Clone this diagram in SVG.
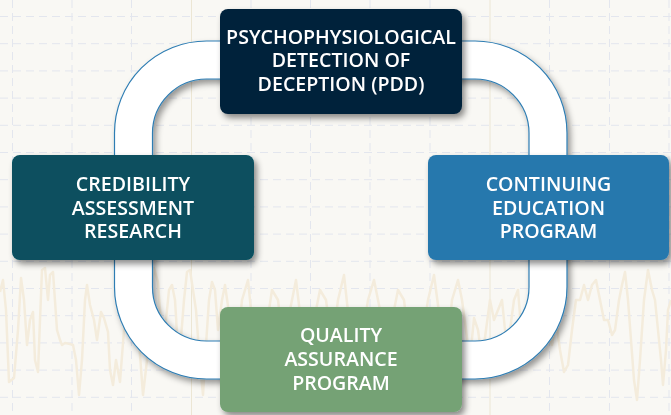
<svg xmlns="http://www.w3.org/2000/svg" width="671" height="415" viewBox="0 0 671 415">
<defs>
<style>
.grid line{stroke:#e3e6ee;stroke-width:1;stroke-dasharray:8 5}
.grid line.solid{stroke:#ece6d4;stroke-dasharray:none}
.wave{fill:none;stroke:#f4ecdc;stroke-width:2.5;stroke-linejoin:round}
.box{filter:url(#shadow)}
.lbl{fill:#ffffff;font-family:"Open Sans","Noto Sans",sans-serif;font-weight:600;font-size:19.6px;text-anchor:middle}
.ring{fill:#ffffff;fill-rule:evenodd;stroke:#2e7db3;stroke-width:1.2;filter:url(#rshadow)}
</style>
<filter id="shadow" x="-10%" y="-10%" width="125%" height="130%">
<feDropShadow dx="3" dy="4" stdDeviation="3" flood-color="#000" flood-opacity="0.45"/>
</filter>
<filter id="rshadow" x="-10%" y="-10%" width="125%" height="125%">
<feDropShadow dx="3" dy="4" stdDeviation="3" flood-color="#000" flood-opacity="0.4"/>
</filter>
</defs>
<rect width="671" height="415" fill="#f9f8f4"/>
<g class="grid">
<line x1="0" y1="16.5" x2="671" y2="16.5"/>
<line x1="0" y1="43.7" x2="671" y2="43.7"/>
<line x1="0" y1="70.9" x2="671" y2="70.9"/>
<line x1="0" y1="98.1" x2="671" y2="98.1"/>
<line x1="0" y1="125.3" x2="671" y2="125.3"/>
<line x1="0" y1="152.5" x2="671" y2="152.5"/>
<line x1="0" y1="179.7" x2="671" y2="179.7"/>
<line x1="0" y1="206.9" x2="671" y2="206.9"/>
<line x1="0" y1="234.1" x2="671" y2="234.1"/>
<line x1="0" y1="261.3" x2="671" y2="261.3"/>
<line x1="0" y1="288.5" x2="671" y2="288.5"/>
<line x1="0" y1="315.7" x2="671" y2="315.7"/>
<line x1="0" y1="342.9" x2="671" y2="342.9"/>
<line x1="0" y1="370.1" x2="671" y2="370.1"/>
<line x1="0" y1="397.3" x2="671" y2="397.3"/>
<line x1="12.5" y1="0" x2="12.5" y2="415"/>
<line x1="72" y1="0" x2="72" y2="415"/>
<line x1="131.5" y1="0" x2="131.5" y2="415"/>
<line class="solid" x1="191.5" y1="0" x2="191.5" y2="415"/>
<line x1="251" y1="0" x2="251" y2="415"/>
<line x1="310.5" y1="0" x2="310.5" y2="415"/>
<line x1="370" y1="0" x2="370" y2="415"/>
<line x1="430" y1="0" x2="430" y2="415"/>
<line class="solid" x1="490" y1="0" x2="490" y2="415"/>
<line x1="549.5" y1="0" x2="549.5" y2="415"/>
<line x1="609.5" y1="0" x2="609.5" y2="415"/>
<line x1="669" y1="0" x2="669" y2="415"/>
</g>
<polyline class="wave" points="0,292 3,280 6,310 9,382 14,378 18,330 21,278 24,300 27,345 30,320 33,312 35,360 38,372 40,320 42,270 45,268 48,300 50,275 53,272 57,330 60,340 62,345 65,343 70,344 73,345 76,360 79,395 82,360 85,300 87,285 90,305 94,320 97,340 101,312 104,318 108,332 110,370 113,385 116,360 120,382 124,330 128,290 133,280 136,300 140,355 143,395 147,360 150,300 154,268 158,282 160,310 163,350 166,320 169,290 172,285 175,300 178,350 181,338 184,300 187,272 190,270 193,290 196,310 200,365 203,395 206,345 209,300 212,282 215,290 218,330 222,300 225,285 230,320 236,360 242,300 248,280 254,340 260,390 266,330 272,290 278,300 284,350 290,310 296,280 302,330 308,380 314,320 320,290 326,300 332,345 338,300 344,275 350,330 356,390 362,340 368,300 374,280 380,310 386,360 392,320 398,290 404,300 410,350 416,395 422,340 428,300 434,275 440,320 446,360 452,300 458,280 462,300 466,330 470,360 474,318 478,330 482,360 486,330 490,300 494,320 498,310 502,300 506,340 510,330 514,300 518,290 522,340 526,330 530,300 536,320 542,300 548,330 552,345 556,320 560,350 564,372 568,365 572,330 576,300 580,300 584,285 588,300 592,285 596,280 600,300 604,320 608,320 612,335 615,330 619,300 622,285 625,272 628,300 631,340 634,380 637,400 640,360 644,300 648,270 652,290 655,300 658,330 661,360 663,385 666,350 668,310 671,300"/>
<path class="ring" d="M206.5 41H475A92 92 0 0 1 567 133V287A92 92 0 0 1 475 379H206.5A92 92 0 0 1 114.5 287V133A92 92 0 0 1 206.5 41Z M206.5 79H475A54 54 0 0 1 529 133V287A54 54 0 0 1 475 341H206.5A54 54 0 0 1 152.5 287V133A54 54 0 0 1 206.5 79Z"/>
<g id="node-pdd" class="box">
<rect x="220" y="9" width="242" height="105" rx="8" fill="#05213a"/>
<text class="lbl" x="341" y="43.5">PSYCHOPHYSIOLOGICAL</text>
<text class="lbl" x="341" y="67">DETECTION OF</text>
<text class="lbl" x="341" y="90.5">DECEPTION (PDD)</text>
</g>
<g id="node-credibility" class="box">
<rect x="12" y="155" width="242" height="105" rx="8" fill="#07505f"/>
<text class="lbl" x="133" y="191">CREDIBILITY</text>
<text class="lbl" x="133" y="214.5">ASSESSMENT</text>
<text class="lbl" x="133" y="238">RESEARCH</text>
</g>
<g id="node-continuing" class="box">
<rect x="428" y="155" width="241" height="105" rx="8" fill="#2878ad"/>
<text class="lbl" x="548.5" y="191">CONTINUING</text>
<text class="lbl" x="548.5" y="214.5">EDUCATION</text>
<text class="lbl" x="548.5" y="238">PROGRAM</text>
</g>
<g id="node-quality" class="box">
<rect x="220" y="307" width="242" height="105" rx="8" fill="#74a275"/>
<text class="lbl" x="341" y="342">QUALITY</text>
<text class="lbl" x="341" y="366">ASSURANCE</text>
<text class="lbl" x="341" y="390">PROGRAM</text>
</g>
</svg>
